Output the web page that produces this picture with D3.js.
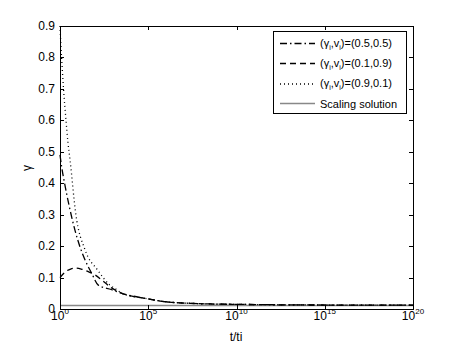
<!DOCTYPE html>
<meta charset="utf-8">
<style>
    body { margin: 0; background: #fff; }
    text { font-family: "Liberation Sans", Arial, sans-serif; font-size: 11px; fill: #000; }
</style>
<body>
<script src="https://d3js.org/d3.v7.min.js"></script>
<script>
    // exponents of t/ti (log10) and gamma values
    var xTicks = [0, 5, 10, 15, 20],
        yTicks = [0, 0.1, 0.2, 0.3, 0.4, 0.5, 0.6, 0.7, 0.8, 0.9];

    var tailLog = [3.5, 4.8, 6, 7.4, 8.5, 10, 12, 14.2, 17, 20],
        tailVal = [0.05, 0.034, 0.023, 0.018, 0.016, 0.0148, 0.0136, 0.0128, 0.0124, 0.012];

    var dashdotLog = [0, 0.1, 0.28, 0.57, 0.85, 1.13, 1.42, 1.8, 2.17, 2.9],
        dashdotVal = [0.49, 0.45, 0.394, 0.315, 0.25, 0.198, 0.156, 0.113, 0.076, 0.062];

    var dashedLog = [0, 0.3, 0.6, 0.85, 1.2, 1.6, 2.0, 2.5, 2.9],
        dashedVal = [0.1, 0.118, 0.127, 0.13, 0.127, 0.119, 0.108, 0.086, 0.068];

    var dottedLog = [0, 0.05, 0.1, 0.2, 0.34, 0.45, 0.57, 0.89, 1.42, 2.13, 2.83, 3.2],
        dottedVal = [0.9, 0.84, 0.79, 0.7, 0.6, 0.53, 0.474, 0.304, 0.188, 0.124, 0.076, 0.062];

    var scalingVal = 0.011;

    var legendLabels = ['0.5,0.5', '0.1,0.9', '0.9,0.1'];

    var W = 457, H = 349,
        pLeft = 60, pRight = 413, pTop = 26, pBottom = 309;

    var svg = d3.select('body').append('svg')
        .attr('width', W)
        .attr('height', H);

    var x = d3.scaleLinear().domain([0, 20]).range([pLeft, pRight]),
        y = d3.scaleLinear().domain([0, 0.9]).range([pBottom, pTop]);

    function series(lg, vl) {
        return lg.map(function(d, i) { return [d, vl[i]]; });
    }
    var tail = series(tailLog, tailVal);

    var line = d3.line()
        .x(function(d) { return x(d[0]); })
        .y(function(d) { return y(d[1]); })
        .curve(d3.curveMonotoneX);

    // scaling solution
    svg.append('line')
        .attr('x1', x(0)).attr('x2', x(20))
        .attr('y1', y(scalingVal)).attr('y2', y(scalingVal))
        .attr('stroke', '#888').attr('stroke-width', 1.6);

    var curves = [
        { d: series(dashdotLog, dashdotVal).concat(tail), dash: '7,3,1.5,3' },
        { d: series(dashedLog, dashedVal).concat(tail), dash: '6,4' },
        { d: series(dottedLog, dottedVal).concat(tail), dash: '1,3' }
    ];

    svg.selectAll('path.curve')
        .data(curves).enter()
        .append('path')
        .attr('class', 'curve')
        .attr('d', function(c) { return line(c.d); })
        .attr('fill', 'none')
        .attr('stroke', '#000')
        .attr('stroke-width', 1.3)
        .attr('stroke-dasharray', function(c) { return c.dash; });

    // box
    svg.append('rect')
        .attr('x', pLeft + 0.5).attr('y', pTop + 0.5)
        .attr('width', pRight - pLeft).attr('height', pBottom - pTop)
        .attr('fill', 'none').attr('stroke', '#000');

    // ticks (inside, both sides)
    var tl = 4;
    xTicks.forEach(function(t) {
        var px = Math.round(x(t)) + 0.5;
        svg.append('line').attr('x1', px).attr('x2', px)
            .attr('y1', pBottom).attr('y2', pBottom - tl).attr('stroke', '#000');
        svg.append('line').attr('x1', px).attr('x2', px)
            .attr('y1', pTop).attr('y2', pTop + tl).attr('stroke', '#000');
        var txt = svg.append('text')
            .attr('x', x(t)).attr('y', 320)
            .attr('text-anchor', 'middle')
            .style('font-size', '12px');
        txt.append('tspan').text('10');
        txt.append('tspan').attr('dy', -6).style('font-size', '8px').text(t);
    });
    yTicks.forEach(function(t) {
        var py = Math.round(y(t)) + 0.5;
        svg.append('line').attr('x1', pLeft).attr('x2', pLeft + tl)
            .attr('y1', py).attr('y2', py).attr('stroke', '#000');
        svg.append('line').attr('x1', pRight).attr('x2', pRight - tl)
            .attr('y1', py).attr('y2', py).attr('stroke', '#000');
        svg.append('text')
            .attr('x', 55).attr('y', y(t) + 4)
            .attr('text-anchor', 'end')
            .style('font-size', '12px')
            .text(t === 0 ? '0' : t.toFixed(1));
    });

    // axis labels
    svg.append('text')
        .attr('x', 236).attr('y', 341)
        .attr('text-anchor', 'middle')
        .style('font-size', '12px')
        .text('t/ti');
    svg.append('text')
        .attr('transform', 'translate(31,168) rotate(-90)')
        .attr('text-anchor', 'middle')
        .style('font-size', '12px')
        .text('γ');

    // legend
    var lg = svg.append('g');
    lg.append('rect')
        .attr('x', 273.5).attr('y', 31.5)
        .attr('width', 133).attr('height', 82)
        .attr('fill', '#fff').attr('stroke', '#000');

    var rows = [43.5, 63.5, 84, 103.5];
    curves.forEach(function(c, i) {
        lg.append('line')
            .attr('x1', 280).attr('x2', 315)
            .attr('y1', rows[i]).attr('y2', rows[i])
            .attr('stroke', '#000').attr('stroke-width', 1.3)
            .attr('stroke-dasharray', c.dash);
        var t = lg.append('text')
            .attr('x', 320).attr('y', rows[i] + 3)
            .style('font-size', '11px');
        t.append('tspan').text('(γ');
        t.append('tspan').attr('dy', 3).style('font-size', '7px').text('i');
        t.append('tspan').attr('dy', -3).text(',v');
        t.append('tspan').attr('dy', 3).style('font-size', '7px').text('i');
        t.append('tspan').attr('dy', -3).text(')=(' + legendLabels[i] + ')');
    });
    lg.append('line')
        .attr('x1', 280).attr('x2', 315)
        .attr('y1', rows[3]).attr('y2', rows[3])
        .attr('stroke', '#888').attr('stroke-width', 1.6);
    lg.append('text')
        .attr('x', 320).attr('y', rows[3] + 4)
        .style('font-size', '11px')
        .text('Scaling solution');
</script>
</body>
